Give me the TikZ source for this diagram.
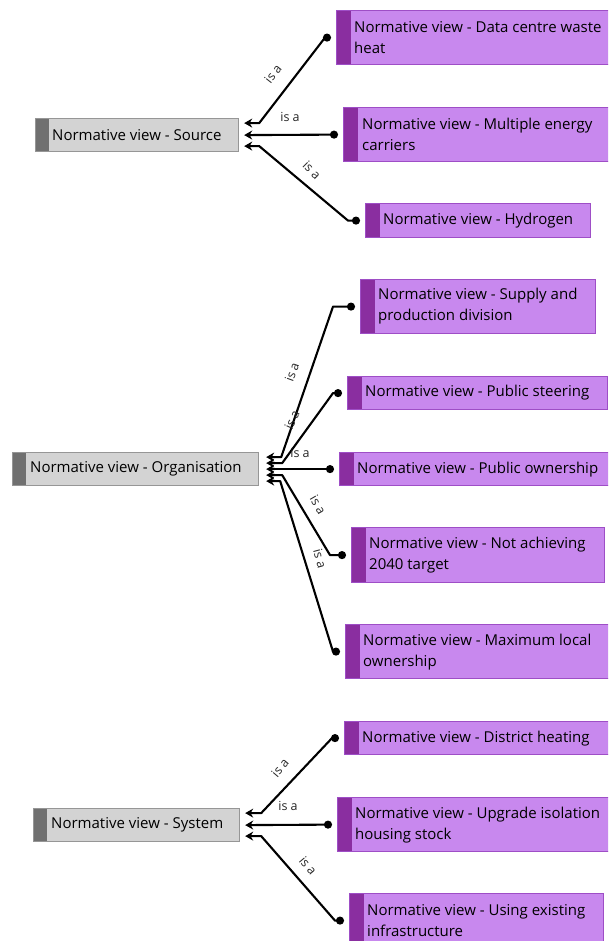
\documentclass[tikz,border=0pt]{standalone}
\usepackage{fontspec}
\setmainfont{Open Sans}
\usetikzlibrary{arrows.meta,calc}

\definecolor{greyfill}{RGB}{211,211,211}
\definecolor{greybar}{RGB}{112,112,112}
\definecolor{greyline}{RGB}{150,150,150}
\definecolor{viofill}{RGB}{200,136,238}
\definecolor{viobar}{RGB}{138,46,160}
\definecolor{violine}{RGB}{158,78,198}

\tikzset{
  catbox/.style={draw=greyline, fill=greyfill, line width=1.2pt, inner sep=0pt,
    anchor=north west,
    path picture={\fill[greybar] (path picture bounding box.south west)
      rectangle ([xshift=13pt]path picture bounding box.north west);}},
  viewbox/.style={draw=violine, fill=viofill, line width=1.2pt, inner sep=0pt,
    anchor=north west,
    path picture={\fill[viobar] (path picture bounding box.south west)
      rectangle ([xshift=14pt]path picture bounding box.north west);}},
  boxtext/.style={anchor=west, inner sep=0pt, align=left,
    font=\fontsize{15}{21}\selectfont, text=black},
  conn/.style={line width=2.1pt, line join=round,
    {Stealth[length=8pt,width=9pt]}-{Circle[length=8pt]}},
  lbl/.style={font=\fontsize{12.5}{14}\selectfont, text=black!85, inner sep=0pt}
}

\begin{document}
\begin{tikzpicture}[x=1pt,y=-1pt]
\useasboundingbox (0,0) rectangle (608,941);
\clip (0,0) rectangle (608,941);

% ---------- Source ----------
\node[catbox, minimum width=203, minimum height=33] (src) at (35,118) {};
\node[boxtext] (srct) at ($(src.west)+(17,0)$) {Normative view - Source};

\node[viewbox, minimum width=280, minimum height=54] (d1) at (336,10) {};
\node[boxtext] (d1t) at ($(d1.west)+(18,0)$) {Normative view - Data centre waste\\heat};
\node[viewbox, minimum width=280, minimum height=54] (d2) at (343,107) {};
\node[boxtext] (d2t) at ($(d2.west)+(19,0)$) {Normative view - Multiple energy\\carriers};
\node[viewbox, minimum width=225, minimum height=34] (d3) at (365,203) {};
\node[boxtext] (d3t) at ($(d3.west)+(18,0)$) {Normative view - Hydrogen};

\draw[conn] ($(src.east)+(5,-12)$) -- ++(15,0) -- ($(d1.west)+(-11,0)$) -- ($(d1.west)+(-5,0)$);
\draw[conn] ($(src.east)+(5,0)$) -- ($(d2.west)+(-5,0)$);
\draw[conn] ($(src.east)+(5,11)$) -- ++(15,0) -- ($(d3.west)+(-17,0)$) -- ($(d3.west)+(-5,0)$);

\node[lbl, rotate=52] (ls1) at (273,74) {is a};
\node[lbl] (ls2) at (290,117) {is a};
\node[lbl, rotate=-45] (ls3) at (312,170) {is a};

% ---------- Organisation ----------
\node[catbox, minimum width=246, minimum height=33] (org) at (12,452) {};
\node[boxtext] (orgt) at ($(org.west)+(18,0)$) {Normative view - Organisation};

\node[viewbox, minimum width=235, minimum height=54] (o1) at (360,279) {};
\node[boxtext] (o1t) at ($(o1.west)+(18,0)$) {Normative view - Supply and\\production division};
\node[viewbox, minimum width=260, minimum height=33] (o2) at (347,376) {};
\node[boxtext] (o2t) at ($(o2.west)+(18,0)$) {Normative view - Public steering};
\node[viewbox, minimum width=280, minimum height=33] (o3) at (339,452) {};
\node[boxtext] (o3t) at ($(o3.west)+(18,0)$) {Normative view - Public ownership};
\node[viewbox, minimum width=253, minimum height=55] (o4) at (351,527) {};
\node[boxtext] (o4t) at ($(o4.west)+(18,0)$) {Normative view - Not achieving\\2040 target};
\node[viewbox, minimum width=280, minimum height=54] (o5) at (345,624) {};
\node[boxtext] (o5t) at ($(o5.west)+(18,0)$) {Normative view - Maximum local\\ownership};

\draw[conn] ($(org.east)+(7,-12)$) -- ++(15,0) -- ($(o1.west)+(-27,0)$) -- ($(o1.west)+(-5,0)$);
\draw[conn] ($(org.east)+(7,-6)$) -- ++(16,0) -- ($(o2.west)+(-14,0)$) -- ($(o2.west)+(-5,0)$);
\draw[conn] ($(org.east)+(7,0)$) -- ($(o3.west)+(-5,0)$);
\draw[conn] ($(org.east)+(7,6)$) -- ++(16,0) -- ($(o4.west)+(-21,0)$) -- ($(o4.west)+(-5,0)$);
\draw[conn] ($(org.east)+(7,12)$) -- ++(14,0) -- ($(o5.west)+(-12,0)$) -- ($(o5.west)+(-5,0)$);

\node[lbl, rotate=70] (lo1) at (292,372) {is a};
\node[lbl, rotate=65] (lo2) at (292,420) {is a};
\node[lbl] (lo3) at (300,453) {is a};
\node[lbl, rotate=-60] (lo4) at (318,505) {is a};
\node[lbl, rotate=-75] (lo5) at (320,559) {is a};

% ---------- System ----------
\node[catbox, minimum width=206, minimum height=33] (sys) at (33,808) {};
\node[boxtext] (syst) at ($(sys.west)+(18,0)$) {Normative view - System};

\node[viewbox, minimum width=280, minimum height=33] (s1) at (344,721) {};
\node[boxtext] (s1t) at ($(s1.west)+(18,0)$) {Normative view - District heating};
\node[viewbox, minimum width=280, minimum height=54] (s2) at (337,797) {};
\node[boxtext] (s2t) at ($(s2.west)+(18,0)$) {Normative view - Upgrade isolation\\housing stock};
\node[viewbox, minimum width=254, minimum height=54] (s3) at (349,893) {};
\node[boxtext] (s3t) at ($(s3.west)+(18,0)$) {Normative view - Using existing\\infrastructure};

\draw[conn] ($(sys.east)+(5,-12)$) -- ++(16,0) -- ($(s1.west)+(-12,0)$) -- ($(s1.west)+(-5,0)$);
\draw[conn] ($(sys.east)+(5,0)$) -- ($(s2.west)+(-5,0)$);
\draw[conn] ($(sys.east)+(5,11)$) -- ++(16,0) -- ($(s3.west)+(-14,0)$) -- ($(s3.west)+(-5,0)$);

\node[lbl, rotate=50] (ly1) at (280,768) {is a};
\node[lbl] (ly2) at (288,806) {is a};
\node[lbl, rotate=-50] (ly3) at (308,866) {is a};
\end{tikzpicture}
\end{document}
